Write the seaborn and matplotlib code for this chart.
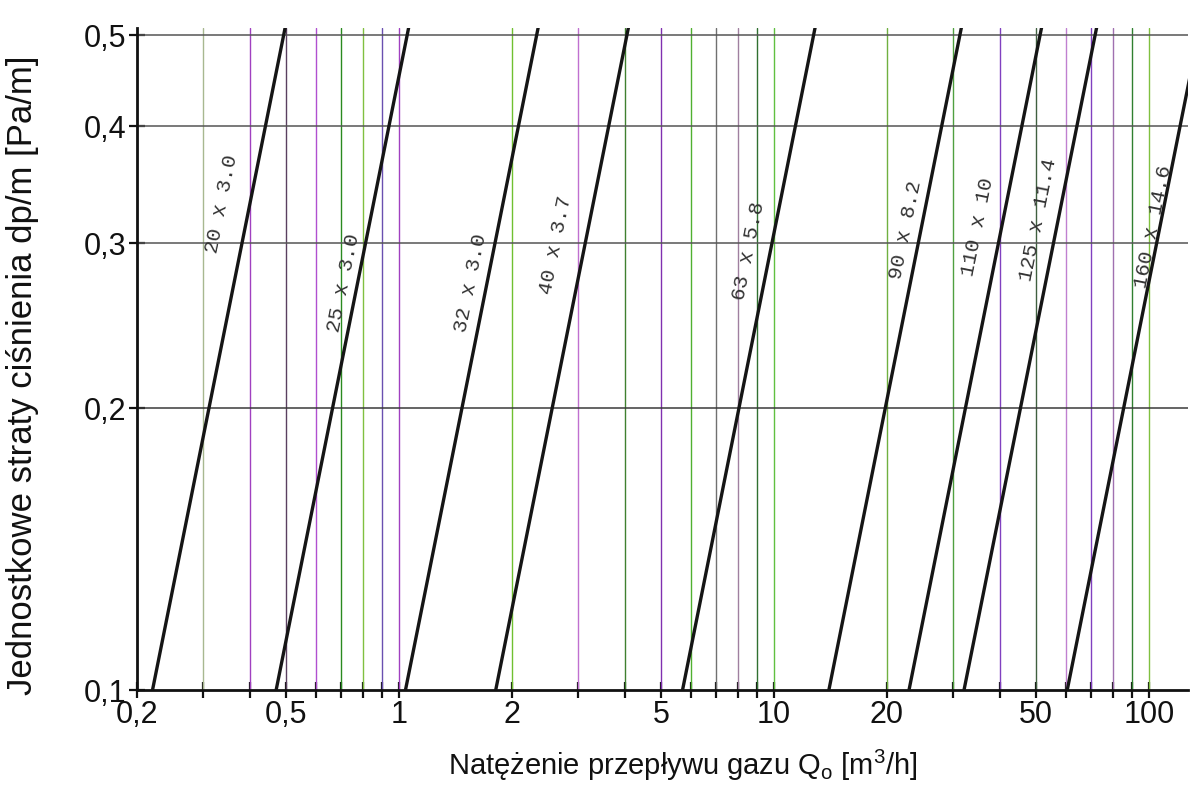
import numpy as np
import pandas as pd
import matplotlib
matplotlib.use("Agg")
import matplotlib.pyplot as plt
import seaborn as sns
from matplotlib.ticker import FixedLocator, FixedFormatter, NullLocator

# pipe sizes and flow (m3/h) at dp/m = 0.1 and 0.51 Pa/m
pipes = ["20 x 3.0", "25 x 3.0", "32 x 3.0", "40 x 3.7", "63 x 5.8",
         "90 x 8.2", "110 x 10", "125 x 11.4", "160 x 14.6"]
q_low = [0.220, 0.470, 1.04, 1.81, 5.70, 14.0, 22.9, 32.1, 60.5]
q_high = [0.497, 1.061, 2.35, 4.09, 12.87, 31.6, 51.7, 72.5, 136.6]
dp_low = 0.1
dp_high = 0.51

# where the pipe labels sit
label_q = [0.337, 0.709, 1.55, 2.61, 8.53, 22.4, 34.8, 50.6, 102.5]
label_dp = [0.330, 0.272, 0.272, 0.299, 0.294, 0.310, 0.312, 0.318, 0.312]

# vertical grid lines and their (scanned) colours
grid_q = [0.3, 0.4, 0.5, 0.6, 0.7, 0.8, 0.9, 1, 2, 3, 4, 5, 6, 7, 8, 9,
          10, 20, 30, 40, 50, 60, 70, 80, 90, 100]
grid_col = ["#a8b890", "#a040c0", "#5a4060", "#b050d0", "#2a8a20", "#80c040",
            "#6a50b0", "#a040c0", "#70c030", "#c070d0", "#408030", "#8030b0",
            "#50b030", "#707070", "#a080a0", "#307030", "#60c040", "#70b040",
            "#50a040", "#8040c0", "#406040", "#c080d0", "#8040c0", "#a070b0",
            "#308030", "#80c040"]
hgrid_dp = [0.2, 0.3, 0.4, 0.5]

x_ticks = [0.2] + grid_q
x_labels = {0.2: "0,2", 0.5: "0,5", 1: "1", 2: "2", 5: "5", 10: "10",
            20: "20", 50: "50", 100: "100"}
y_ticks = [0.1, 0.2, 0.3, 0.4, 0.5]
y_labels = ["0,1", "0,2", "0,3", "0,4", "0,5"]

sns.set_theme(style="white")
plt.rcParams["font.family"] = ["Liberation Sans", "DejaVu Sans"]
plt.rcParams["mathtext.fontset"] = "custom"
plt.rcParams["mathtext.rm"] = "Liberation Sans"

rows = []
for p, a, b in zip(pipes, q_low, q_high):
    rows.append({"pipe": p, "Q": a, "dp": dp_low})
    rows.append({"pipe": p, "Q": b, "dp": dp_high})
df = pd.DataFrame(rows)

fig = plt.figure(figsize=(11.94, 7.92), dpi=100)
ax = fig.add_axes([137 / 1194, 102 / 792, (1188 - 137) / 1194, (690 - 28) / 792])

for q, c in zip(grid_q, grid_col):
    ax.axvline(q, color=c, lw=1.0, zorder=1)
for d in hgrid_dp:
    ax.axhline(d, color="#3a3a3a" if d == 0.2 else "#555555", lw=1.1, zorder=1)

sns.lineplot(data=df, x="Q", y="dp", hue="pipe", units="pipe", estimator=None,
             sort=False, palette=["#151515"] * len(pipes), lw=2.4,
             legend=False, ax=ax, zorder=3)

ax.set_xscale("log")
ax.set_yscale("log")
ax.set_xlim(0.2, 127)
ax.set_ylim(0.1, 0.509)

for p, q, d in zip(pipes, label_q, label_dp):
    ax.text(q, d, p, rotation=78.5, ha="center", va="center", fontsize=15,
            family="Liberation Mono", color="#333333", zorder=4)

ax.xaxis.set_major_locator(FixedLocator(x_ticks))
ax.xaxis.set_major_formatter(FixedFormatter([x_labels.get(t, "") for t in x_ticks]))
ax.xaxis.set_minor_locator(NullLocator())
ax.yaxis.set_major_locator(FixedLocator(y_ticks))
ax.yaxis.set_major_formatter(FixedFormatter(y_labels))
ax.yaxis.set_minor_locator(NullLocator())
ax.tick_params(axis="both", which="major", direction="inout", length=12,
               width=1.6, color="#111111", labelsize=22, labelcolor="#111111",
               bottom=True, left=True)
ax.tick_params(axis="x", pad=1)
ax.tick_params(axis="y", pad=2)

for s in ["top", "right"]:
    ax.spines[s].set_visible(False)
for s in ["left", "bottom"]:
    ax.spines[s].set_color("#111111")
    ax.spines[s].set_linewidth(2.0)

ax.set_xlabel("Natężenie przepływu gazu Q$_\\mathregular{o}$ [m$^\\mathregular{3}$/h]",
              fontsize=21, color="#111111")
ax.xaxis.set_label_coords(0.519, -0.087)
ax.set_ylabel("Jednostkowe straty ciśnienia dp/m [Pa/m]", fontsize=25,
              color="#111111")
ax.yaxis.set_label_coords(-0.093, 0.475)
ax.grid(False)

fig.savefig("out.png", dpi=100, facecolor="white")
